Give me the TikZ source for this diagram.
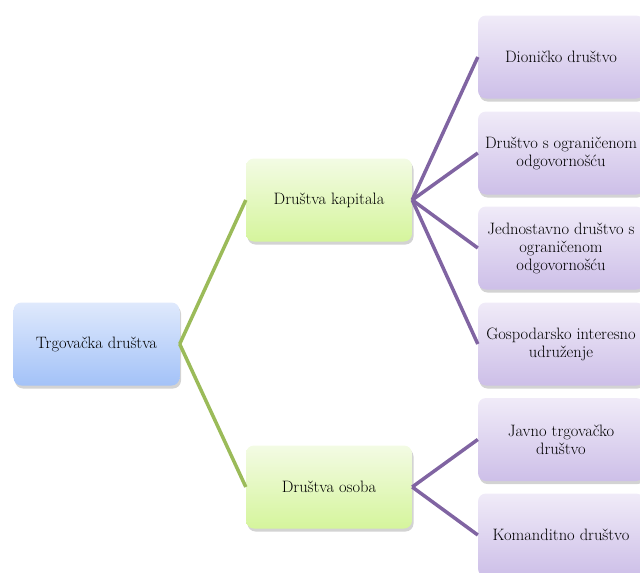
\documentclass[tikz,border=0pt]{standalone}
\usepackage{fontspec}
\usepackage{tikz}
\usetikzlibrary{shadows}
\definecolor{linegreen}{HTML}{9BBB59}
\definecolor{linepurple}{HTML}{8064A2}
\definecolor{bluetop}{HTML}{DFE9FC}
\definecolor{bluebottom}{HTML}{A3C2F8}
\definecolor{greentop}{HTML}{F3FBE4}
\definecolor{greenbottom}{HTML}{D5F59C}
\definecolor{purpletop}{HTML}{F0EBF8}
\definecolor{purplebottom}{HTML}{CDBFE8}
\tikzset{box/.style={rounded corners=8pt,minimum width=166pt,minimum height=83pt,
           inner xsep=0pt,align=center,font=\fontsize{16.5}{18}\selectfont,
           drop shadow={shadow xshift=1.5pt,shadow yshift=-3pt,opacity=0.35}},
         rootbox/.style={box,top color=bluetop,bottom color=bluebottom},
         midbox/.style={box,top color=greentop,bottom color=greenbottom},
         leafbox/.style={box,top color=purpletop,bottom color=purplebottom},
         greenline/.style={draw=linegreen,line width=3.5pt},
         purpleline/.style={draw=linepurple,line width=3.5pt}}

\begin{document}
\begin{tikzpicture}[x=1pt,y=-1pt]
\clip (0,0) rectangle (640,573);
\node[rootbox] (td) at (96.5,344) {Trgovačka društva};
\node[midbox] (dk) at (329,200) {Društva kapitala};
\node[midbox] (do) at (329,487) {Društva osoba};
\node[leafbox] (dd) at (561,57) {Dioničko društvo};
\node[leafbox] (doo) at (561,153) {Društvo s ograničenom\\odgovornošću};
\node[leafbox] (jdoo) at (561,248) {Jednostavno društvo s\\ograničenom\\odgovornošću};
\node[leafbox] (giu) at (561,344) {Gospodarsko interesno\\udruženje};
\node[leafbox] (jtd) at (561,439.5) {Javno trgovačko\\društvo};
\node[leafbox] (kd) at (561,535) {Komanditno društvo};
\draw[greenline] (td.east)--(dk.west);
\draw[greenline] (td.east)--(do.west);
\draw[purpleline] (dk.east)--(dd.west);
\draw[purpleline] (dk.east)--(doo.west);
\draw[purpleline] (dk.east)--(jdoo.west);
\draw[purpleline] (dk.east)--(giu.west);
\draw[purpleline] (do.east)--(jtd.west);
\draw[purpleline] (do.east)--(kd.west);
\end{tikzpicture}
\end{document}
